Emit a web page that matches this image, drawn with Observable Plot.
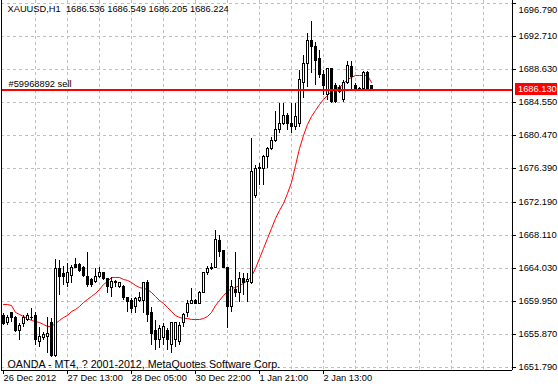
<!DOCTYPE html>
<html><head><meta charset="utf-8">
<script src="https://cdn.jsdelivr.net/npm/d3@7"></script>
<script src="https://cdn.jsdelivr.net/npm/@observablehq/plot@0.6"></script>
<style>html,body{margin:0;padding:0;background:#fff}svg{display:block}</style>
</head><body><div id="chart"></div>
<script>
const opens = [1658.10,1657.35,1658.47,1657.97,1656.36,1657.11,1657.72,1657.85,1658.10,1655.00,
1655.38,1655.50,1657.23,1653.15,1663.91,1663.29,1662.18,1663.16,1664.40,1664.40,
1664.03,1662.92,1662.55,1662.42,1662.92,1663.41,1662.79,1661.56,1662.30,1661.80,
1661.68,1660.44,1660.07,1659.21,1660.07,1660.07,1662.18,1658.47,1656.36,1655.13,
1655.38,1656.36,1654.51,1655.13,1654.88,1657.23,1658.47,1659.70,1660.07,1659.70,
1661.06,1663.41,1663.91,1664.15,1667.37,1666.13,1664.15,1659.21,1661.31,1661.06,
1662.67,1662.30,1662.18,1673.05,1676.39,1676.39,1677.75,1678.74,1679.85,1681.21,
1681.95,1682.82,1681.95,1681.46,1681.95,1687.02,1689.37,1692.21,1691.47,1689.87,
1687.89,1685.42,1688.63,1686.53,1686.40,1684.80,1687.02,1688.88,1686.65,1686.28,
1686.28,1688.14,1686.536];
const highs = [1658.47,1658.22,1658.59,1658.10,1657.23,1658.22,1658.47,1659.08,1658.59,1656.74,
1656.12,1657.97,1657.85,1665.14,1665.02,1664.28,1664.65,1664.40,1665.27,1664.65,
1664.28,1666.01,1662.79,1664.03,1664.15,1663.53,1662.79,1662.92,1662.55,1662.30,
1661.93,1660.44,1660.32,1660.44,1661.06,1662.30,1662.55,1659.21,1657.60,1656.98,
1657.23,1656.61,1657.35,1657.35,1657.35,1658.47,1660.07,1661.56,1660.20,1661.19,
1663.53,1664.28,1664.65,1668.73,1668.11,1666.25,1664.15,1662.55,1666.01,1663.53,
1663.41,1663.41,1680.10,1676.76,1677.01,1678.00,1678.99,1680.22,1683.44,1684.43,
1684.43,1683.19,1684.43,1684.43,1688.51,1690.36,1693.08,1694.56,1691.97,1690.98,
1688.51,1688.75,1688.75,1686.90,1686.65,1687.27,1689.62,1689.62,1686.90,1686.40,
1688.38,1688.38,1686.549];
const lows = [1656.98,1656.98,1657.35,1656.12,1655.13,1656.74,1657.48,1657.60,1654.51,1654.26,
1655.13,1653.52,1653.03,1653.03,1660.69,1661.93,1661.68,1662.18,1664.03,1663.53,
1662.92,1661.68,1661.68,1662.18,1662.79,1662.55,1660.94,1660.44,1661.68,1661.56,
1660.07,1658.59,1658.47,1658.47,1659.83,1658.47,1657.35,1654.51,1653.89,1654.14,
1654.51,1653.89,1653.52,1654.26,1654.51,1656.74,1657.97,1659.58,1659.70,1659.58,
1660.94,1663.16,1663.78,1664.03,1665.39,1664.03,1656.61,1658.59,1660.44,1659.83,
1660.69,1659.83,1662.05,1672.68,1674.29,1674.29,1676.39,1678.62,1679.60,1680.72,
1681.71,1681.09,1680.72,1681.09,1681.46,1685.04,1686.40,1688.14,1686.65,1687.52,
1685.42,1684.80,1684.43,1684.43,1685.66,1684.55,1686.78,1686.03,1686.03,1686.03,
1686.03,1686.03,1686.205];
const closes = [1657.11,1657.97,1657.97,1656.24,1656.98,1657.85,1658.10,1657.97,1655.13,1655.62,
1655.75,1655.99,1653.27,1663.91,1662.92,1662.92,1663.41,1664.15,1664.15,1663.78,
1663.16,1661.93,1661.93,1662.92,1663.41,1662.79,1661.68,1662.30,1662.18,1662.18,
1660.32,1659.83,1659.08,1660.20,1660.32,1662.18,1658.22,1655.99,1655.25,1656.61,
1656.74,1655.13,1657.23,1657.23,1656.98,1658.22,1659.70,1660.07,1659.70,1661.06,
1663.41,1663.91,1664.15,1667.49,1666.01,1664.15,1659.21,1661.68,1660.94,1662.79,
1662.18,1662.55,1675.90,1676.39,1676.51,1677.75,1678.74,1679.85,1681.21,1681.95,
1682.82,1681.95,1681.46,1682.70,1687.27,1689.37,1692.21,1691.35,1689.74,1687.89,
1686.53,1688.63,1684.55,1684.55,1685.79,1687.02,1689.00,1687.64,1686.03,1686.16,
1688.14,1686.28,1686.224];
const maValues = [1659.58,1659.58,1659.45,1658.59,1658.34,1658.10,1657.85,1657.60,1657.48,1657.35,
1657.11,1656.86,1656.86,1657.23,1657.60,1657.97,1658.22,1658.71,1658.96,1659.33,
1659.83,1660.20,1660.57,1660.94,1661.43,1662.05,1662.42,1662.92,1662.92,1662.92,
1662.67,1662.55,1662.30,1661.93,1661.68,1661.56,1661.43,1661.06,1660.57,1660.07,
1659.70,1659.21,1658.71,1658.22,1657.97,1657.85,1657.85,1657.72,1657.72,1657.72,
1657.85,1658.10,1658.59,1659.45,1660.07,1660.69,1661.19,1661.56,1661.68,1661.93,
1662.18,1662.55,1663.04,1664.03,1665.27,1666.50,1667.74,1668.97,1670.21,1671.20,
1672.06,1673.30,1674.66,1676.76,1678.86,1680.47,1681.83,1682.82,1683.56,1684.30,
1684.92,1685.42,1685.91,1686.28,1686.40,1686.90,1687.39,1687.64,1687.89,1687.89,
1687.89,1687.89,1687.02];
const yTicks = [1696.79,1692.71,1688.63,1684.55,1680.47,1676.39,1672.19,1668.11,1664.03,1659.95,1655.87,1651.79];
const xTickBars = [0,16,32,48,64,80];
const xTickLabels = ["26 Dec 2012","27 Dec 13:00","28 Dec 05:00","30 Dec 22:00","1 Jan 21:00","2 Jan 13:00"];
const orderPrice = 1686.13;
const orderText = "#59968892 sell";
const headerText = "XAUUSD,H1  1686.536 1686.549 1686.205 1686.224";
const footerText = "OANDA - MT4, ? 2001-2012, MetaQuotes Software Corp.";

const bars = opens.map((o, i) => ({i, open: o, high: highs[i], low: lows[i], close: closes[i], fill: closes[i] >= o ? "#ffffff" : "#000000"}));
const maPts = maValues.map((v, i) => ({i, v}));
const gridBars = d3.range(8, 121, 8);
const labelOf = new Map(xTickBars.map((b, k) => [b, xTickLabels[k]]));
const FONT = "'Liberation Sans', Arial, sans-serif";
const FS = 9.3;

const chart = Plot.plot({
  width: 558, height: 387,
  marginLeft: 1, marginRight: 46, marginTop: 0, marginBottom: 17,
  style: {fontFamily: FONT, fontSize: FS + "px", background: "#ffffff", color: "#000000"},
  x: {type: "linear", domain: [-0.5, 127.25], axis: null, label: null},
  y: {type: "linear", domain: [1651.418, 1697.159], axis: null, label: null},
  color: {type: "identity"},
  marks: [
    Plot.ruleY(yTicks, {stroke: "#c0c0c0", strokeDasharray: "3,3", shapeRendering: "crispEdges"}),
    Plot.ruleX(gridBars, {stroke: "#c0c0c0", strokeDasharray: "3,3", shapeRendering: "crispEdges"}),
    Plot.line(maPts, {x: "i", y: "v", stroke: "#ff0000", strokeWidth: 1}),
    Plot.ruleX(bars, {x: "i", y1: "low", y2: "high", stroke: "#000000", shapeRendering: "crispEdges"}),
    Plot.rect(bars, {x1: d => d.i - 0.25, x2: d => d.i + 0.25, y1: "open", y2: "close", fill: "fill", stroke: "#000000", strokeWidth: 1, shapeRendering: "crispEdges"}),
    Plot.ruleY([orderPrice], {stroke: "#ff0000", strokeWidth: 2, shapeRendering: "crispEdges"}),
    Plot.ruleX([-0.5, 127.25], {stroke: "#000000", shapeRendering: "crispEdges"}),
    Plot.ruleY([1651.418], {stroke: "#000000", shapeRendering: "crispEdges"}),
    Plot.axisY(yTicks, {anchor: "right", tickSize: 3, tickPadding: 3, tickFormat: d => d.toFixed(3), fontSize: FS, label: null}),
    Plot.axisX(xTickBars, {anchor: "bottom", tickSize: 4, tickPadding: 0, tickFormat: d => labelOf.get(d), textAnchor: "start", fontSize: FS, label: null}),
    Plot.text([headerText], {frameAnchor: "top-left", dx: 6, dy: 5, textAnchor: "start", lineAnchor: "top", fontSize: FS, fill: "#000000"}),
    Plot.text([orderText], {x: 0, y: orderPrice, dx: 5, dy: -3, textAnchor: "start", lineAnchor: "bottom", fontSize: FS, fill: "#000000"}),
    Plot.text([footerText], {frameAnchor: "bottom-left", dx: 6, dy: -3, textAnchor: "start", lineAnchor: "bottom", fontSize: 10.7, fill: "#000000"})
  ]
});

const ys = chart.scale("y");
const svg = d3.select(chart);
svg.selectAll("text").attr("xml:space", "preserve").style("white-space", "pre");
// keep the top price label inside the picture, as the terminal does
svg.selectAll("text").filter(function () { return this.textContent === yTicks[0].toFixed(3); })
  .attr("dy", "0.75em");
// price tag of the order line on the price axis, placed through Plot's y scale
const yTag = Math.round(ys.apply(orderPrice));
const xTag = 558 - 46 + 3;
const tag = svg.append("g");
tag.append("rect").attr("x", xTag).attr("y", yTag - 6).attr("width", 42).attr("height", 12).attr("fill", "#ff0000");
tag.append("text").attr("x", xTag + 3).attr("y", yTag).attr("dy", "0.35em")
  .attr("text-anchor", "start").attr("fill", "#ffffff")
  .attr("font-family", FONT).attr("font-size", FS).text(orderPrice.toFixed(3));
document.getElementById("chart").appendChild(chart);
</script>
</body></html>
